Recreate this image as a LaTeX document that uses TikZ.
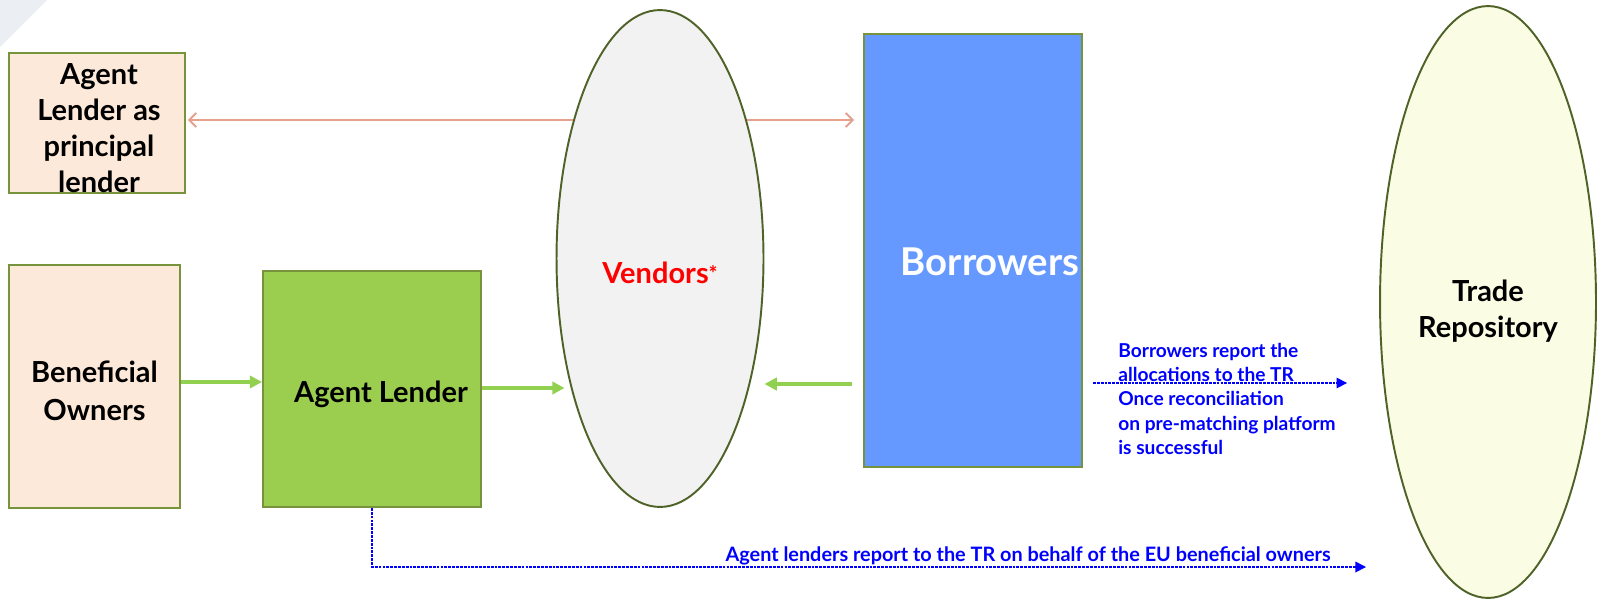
\documentclass[tikz,border=0pt]{standalone}
\usepackage{fontspec}
\setmainfont{Lato}
\usetikzlibrary{arrows.meta,shapes.geometric}
\definecolor{peach}{HTML}{FDE9D9}
\definecolor{boxline}{HTML}{77933C}
\definecolor{lendgreen}{HTML}{9BCD4F}
\definecolor{arrowgreen}{HTML}{92D050}
\definecolor{vendgray}{HTML}{F2F2F2}
\definecolor{ovalline}{HTML}{4F6228}
\definecolor{borrblue}{HTML}{6699FF}
\definecolor{trfill}{HTML}{FAFDE3}
\definecolor{salmon}{HTML}{E6A08E}
\definecolor{slidegray}{HTML}{EBEEF3}
\begin{document}
\begin{tikzpicture}[x=0.02cm,y=-0.02cm,
	box/.style={draw=boxline,line width=1.1pt,inner sep=0pt},
	oval/.style={ellipse,draw=ovalline,line width=1.1pt,inner sep=0pt},
	lbl/.style={align=center,inner sep=0pt,font=\fontsize{16.5}{20.6}\selectfont\bfseries},
	feed/.style={draw=arrowgreen,line width=2.3pt,-{Triangle[length=7pt,width=7pt]}},
	report/.style={blue,line width=0.9pt,dash pattern=on 1.6pt off 0.6pt,
		-{Triangle[length=6pt,width=6pt]}},
	note/.style={text=blue,font=\fontsize{10.9}{13.75}\selectfont\bfseries,align=left,inner sep=0pt}]
	\useasboundingbox (0,0) rectangle (1601,599);
	\fill[slidegray] (0,0) -- (47,0) -- (0,47) -- cycle;
	% boxes on the left
	\node[box,fill=peach,minimum width=3.52cm,minimum height=2.8cm,
		label={[lbl,xshift=0.04cm,yshift=-0.1cm]center:Agent\\Lender as\\principal\\lender}]
		(principal) at (97,123) {};
	\node[box,fill=peach,minimum width=3.42cm,minimum height=4.86cm,
		label={[lbl,font=\fontsize{16.5}{21.5}\selectfont\bfseries,yshift=-0.08cm]center:Beneficial\\Owners}]
		(bo) at (94.5,386.5) {};
	\node[box,fill=lendgreen,minimum width=4.36cm,minimum height=4.72cm,
		label={[lbl,xshift=0.18cm,yshift=-0.1cm]center:Agent Lender}]
		(al) at (372,389) {};
	\node[box,fill=borrblue,minimum width=4.36cm,minimum height=8.66cm,
		label={[lbl,xshift=0.34cm,yshift=-0.23cm,text=white,font=\fontsize{21.8}{26}\selectfont\bfseries]center:Borrowers}]
		(borrowers) at (973,250.5) {};
	\draw[salmon,line width=1.1pt,{Straight Barb[length=4pt,width=8pt]}-{Straight Barb[length=4pt,width=8pt]}]
		([xshift=0.04cm,yshift=0.06cm]principal.east) -- ([xshift=-0.18cm,yshift=0.06cm]principal.east -| borrowers.west);
	% ovals
	\node[oval,fill=vendgray,minimum width=4.14cm,minimum height=9.94cm,
		label={[lbl,yshift=-0.29cm,text=red]center:Vendors\raisebox{1pt}{\fontsize{12}{12}\selectfont*}}]
		(vendors) at (660,258.5) {};
	\node[oval,fill=trfill,minimum width=4.32cm,minimum height=11.84cm,
		label={[lbl,yshift=-0.18cm]center:Trade\\Repository}]
		(tr) at (1488,302) {};
	% flows
	\draw[feed] (bo.east |- 0,382) -- (al.west |- 0,382);
	\draw[feed] (al.east |- 0,388) -- ([xshift=0.18cm]vendors.west |- 0,388);
	\draw[feed] ([xshift=-0.22cm]borrowers.west |- 0,384) -- (vendors.east |- 0,384);
	% reporting
	\node[note,anchor=north west] (brnote) at (1118,343)
		{Borrowers report the\\allocations to the TR\\Once reconciliation\\on pre-matching platform\\is successful};
	\draw[report] ([xshift=0.2cm]borrowers.east |- 0,383) -- ([xshift=-0.64cm]tr.west |- 0,383);
	\coordinate (trin) at (1366,567);
	\draw[report] (al.south) |- (trin)
		node[note,font=\fontsize{11.3}{13.75}\selectfont\bfseries,pos=0.83,above=0.5pt] (alnote)
		{Agent lenders report to the TR on behalf of the EU beneficial owners};
\end{tikzpicture}
\end{document}
